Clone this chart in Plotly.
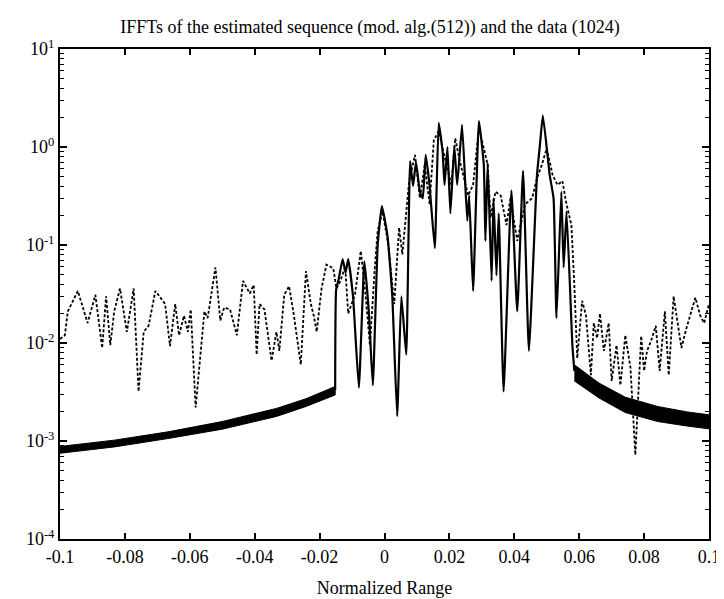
import plotly.graph_objects as go

# ---- estimated sequence (solid), central part ----
est_x = [-0.0152, -0.0149, -0.0141, -0.0129, -0.0120, -0.0112, -0.0097, -0.0079, -0.0062, -0.0048,
         -0.0036, -0.0021, -0.0008, 0.0009, 0.0024, 0.0039, 0.0052, 0.0067, 0.0079, 0.0088,
         0.0097, 0.0109, 0.0118, 0.0127, 0.0139, 0.0155, 0.0167, 0.0179, 0.0185, 0.0194,
         0.0203, 0.0215, 0.0224, 0.0239, 0.0255, 0.0261, 0.0273, 0.0291, 0.0306, 0.0311,
         0.0318, 0.0330, 0.0336, 0.0345, 0.0352, 0.0367, 0.0391, 0.0409, 0.0427, 0.0445,
         0.0470, 0.0479, 0.0488, 0.0509, 0.0521, 0.0530, 0.0545, 0.0552, 0.0561, 0.0579, 0.0585]
est_y = [0.0033, 0.035, 0.045, 0.072, 0.052, 0.072, 0.03, 0.0035, 0.068, 0.02,
         0.0037, 0.1, 0.25, 0.126, 0.03, 0.0018, 0.03, 0.0076, 0.72, 0.4,
         0.7, 0.35, 0.3, 0.83, 0.4, 0.093, 1.76, 0.9, 0.41, 1.0,
         0.21, 1.02, 0.41, 1.68, 0.176, 0.32, 0.034, 1.84, 0.66, 0.11,
         0.69, 0.043, 0.30, 0.049, 0.21, 0.0032, 0.36, 0.021, 0.57, 0.0083,
         0.52, 1.05, 2.1, 0.52, 0.3, 0.018, 0.35, 0.059, 0.22, 0.0095, 0.0052]

# ---- estimated sequence tails (dense ripple band: upper / lower envelopes) ----
tailL_x = [-0.1, -0.0833, -0.0667, -0.05, -0.0333, -0.0242, -0.0152]
tailL_hi = [8.8e-4, 1.02e-3, 1.24e-3, 1.58e-3, 2.15e-3, 2.7e-3, 3.6e-3]
tailL_lo = [7.5e-4, 8.7e-4, 1.06e-3, 1.32e-3, 1.78e-3, 2.25e-3, 2.95e-3]

tailR_x = [0.0585, 0.0661, 0.0742, 0.0842, 0.0933, 0.1]
tailR_hi = [6.0e-3, 3.9e-3, 2.8e-3, 2.25e-3, 1.98e-3, 1.85e-3]
tailR_lo = [4.1e-3, 2.75e-3, 1.95e-3, 1.58e-3, 1.42e-3, 1.33e-3]

# ---- data (dotted) ----
data_x = [-0.1, -0.0985, -0.0976, -0.0945, -0.0915, -0.0891, -0.0870, -0.0858, -0.0845, -0.0833,
          -0.0815, -0.0794, -0.0773, -0.0758, -0.0742, -0.0727, -0.0706, -0.0676, -0.0661, -0.0645,
          -0.0633, -0.0618, -0.0606, -0.0597, -0.0582, -0.0555, -0.0545, -0.0521, -0.0506, -0.0494,
          -0.0476, -0.0455, -0.0436, -0.0415, -0.0403, -0.0394, -0.0385, -0.0370, -0.0348, -0.0333,
          -0.0324, -0.0309, -0.0294, -0.0279, -0.0258, -0.0242, -0.0227, -0.0218, -0.0209, -0.0194,
          -0.0179, -0.0158, -0.0148, -0.0136, -0.0121, -0.0112, -0.0091, -0.0073, -0.0058, -0.0045,
          -0.0030, -0.0021, -0.0006, 0.0012, 0.0030, 0.0045, 0.0055, 0.0070, 0.0076, 0.0094,
          0.0109, 0.0124, 0.0139, 0.0152, 0.0167, 0.0185, 0.0206, 0.0218, 0.0230, 0.0258,
          0.0273, 0.0291, 0.0318, 0.0327, 0.0342, 0.0358, 0.0376, 0.0388, 0.0409, 0.0433,
          0.0455, 0.0470, 0.0485, 0.0500, 0.0518, 0.0533, 0.0548, 0.0561, 0.0576, 0.0585,
          0.0594, 0.0609, 0.0621, 0.0636, 0.0645, 0.0655, 0.0664, 0.0676, 0.0691, 0.0700,
          0.0715, 0.0727, 0.0742, 0.0758, 0.0773, 0.0791, 0.0800, 0.0809, 0.0821, 0.0836,
          0.0848, 0.0864, 0.0876, 0.0891, 0.0906, 0.0915, 0.0930, 0.0958, 0.0973, 0.0985, 0.1]
data_y = [0.011, 0.012, 0.021, 0.034, 0.016, 0.031, 0.0089, 0.030, 0.0095, 0.021,
          0.036, 0.013, 0.036, 0.0032, 0.013, 0.015, 0.034, 0.025, 0.0093, 0.025,
          0.012, 0.019, 0.013, 0.022, 0.0022, 0.021, 0.018, 0.059, 0.017, 0.023,
          0.022, 0.012, 0.043, 0.032, 0.039, 0.0076, 0.025, 0.022, 0.0066, 0.013,
          0.0083, 0.031, 0.038, 0.019, 0.006, 0.054, 0.025, 0.019, 0.013, 0.036,
          0.063, 0.058, 0.036, 0.043, 0.06, 0.02, 0.031, 0.087, 0.03, 0.0095,
          0.058, 0.14, 0.22, 0.1, 0.025, 0.15, 0.08, 0.28, 0.45, 0.83,
          0.3, 0.66, 0.26, 1.17, 1.45, 0.8, 0.41, 1.23, 0.77, 0.32,
          0.41, 1.56, 0.66, 0.19, 0.35, 0.32, 0.16, 0.3, 0.11, 0.26,
          0.3, 0.48, 0.66, 0.97, 0.52, 0.41, 0.45, 0.26, 0.16, 0.039,
          0.007, 0.027, 0.019, 0.0047, 0.016, 0.0112, 0.020, 0.0083, 0.016, 0.0041,
          0.0095, 0.0037, 0.012, 0.0056, 0.00072, 0.0118, 0.0052, 0.0083, 0.0104, 0.015,
          0.0052, 0.021, 0.0047, 0.03, 0.014, 0.0089, 0.014, 0.029, 0.019, 0.016, 0.025]

x_ticks = [-0.1, -0.08, -0.06, -0.04, -0.02, 0, 0.02, 0.04, 0.06, 0.08, 0.1]
x_ticktext = ["-0.1", "-0.08", "-0.06", "-0.04", "-0.02", "0", "0.02", "0.04", "0.06", "0.08", "0.1"]
y_ticks = [1e-4, 1e-3, 1e-2, 1e-1, 1e0, 1e1]
y_ticktext = ["10<sup>-4</sup>", "10<sup>-3</sup>", "10<sup>-2</sup>", "10<sup>-1</sup>",
              "10<sup>0</sup>", "10<sup>1</sup>"]
y_minor = [m * 10.0 ** e for e in range(-4, 1) for m in range(2, 10)]

FONT = "Liberation Serif, Times New Roman, Times, serif"

fig = go.Figure()

# left ripple band
fig.add_trace(go.Scatter(x=tailL_x + tailL_x[::-1], y=tailL_hi + tailL_lo[::-1],
                         mode="lines", fill="toself", fillcolor="black",
                         line=dict(color="black", width=1), showlegend=False, hoverinfo="skip"))
# right ripple band
fig.add_trace(go.Scatter(x=tailR_x + tailR_x[::-1], y=tailR_hi + tailR_lo[::-1],
                         mode="lines", fill="toself", fillcolor="black",
                         line=dict(color="black", width=1), showlegend=False, hoverinfo="skip"))
# data (dotted)
fig.add_trace(go.Scatter(x=data_x, y=data_y, mode="lines",
                         line=dict(color="black", width=1.8, dash="3px,2px"), showlegend=False))
# estimated sequence (solid)
fig.add_trace(go.Scatter(x=est_x, y=est_y, mode="lines",
                         line=dict(color="black", width=2.2, shape="spline", smoothing=0.4),
                         showlegend=False))
# invisible trace to anchor mirrored top/right axes
fig.add_trace(go.Scatter(x=[x_ticks[0], x_ticks[-1]], y=[y_ticks[0], y_ticks[-1]], xaxis="x2", yaxis="y2",
                         mode="markers", marker=dict(opacity=0), showlegend=False, hoverinfo="skip"))

fig.update_layout(
    width=724, height=599,
    paper_bgcolor="white", plot_bgcolor="white",
    margin=dict(l=52, r=12, t=41, b=68),
    font=dict(family=FONT, color="black", size=18),
    title=dict(text="IFFTs of the estimated sequence (mod. alg.(512)) and the data (1024)",
               x=0.5, xanchor="center", y=0.968, yanchor="middle", yref="container",
               font=dict(family=FONT, size=18, color="black")),
    xaxis=dict(range=[-0.1, 0.1], tickmode="array", tickvals=x_ticks, ticktext=x_ticktext,
               ticks="inside", ticklen=6, tickwidth=1.5, tickcolor="black",
               showline=True, linewidth=2, linecolor="black", mirror=True,
               showgrid=False, zeroline=False,
               tickfont=dict(family=FONT, size=18),
               title=dict(text="Normalized Range", font=dict(family=FONT, size=18), standoff=16)),
    yaxis=dict(type="log", range=[-4, 1], tickmode="array", tickvals=y_ticks, ticktext=y_ticktext,
               ticks="inside", ticklen=7, tickwidth=1.5, tickcolor="black",
               minor=dict(tickmode="array", tickvals=y_minor, ticks="inside", ticklen=4,
                          tickwidth=1, tickcolor="black", showgrid=False),
               showline=True, linewidth=2, linecolor="black", mirror=True,
               showgrid=False, zeroline=False,
               tickfont=dict(family=FONT, size=18)),
    xaxis2=dict(overlaying="x", side="top", range=[-0.1, 0.1], tickmode="array", tickvals=x_ticks,
                showticklabels=False, ticks="inside", ticklen=6, tickwidth=1.5, tickcolor="black",
                showgrid=False, zeroline=False, showline=False),
    yaxis2=dict(overlaying="y", side="right", type="log", range=[-4, 1], tickmode="array",
                tickvals=y_ticks, showticklabels=False, ticks="inside", ticklen=7, tickwidth=1.5,
                tickcolor="black",
                minor=dict(tickmode="array", tickvals=y_minor, ticks="inside", ticklen=4,
                           tickwidth=1, tickcolor="black", showgrid=False),
                showgrid=False, zeroline=False, showline=False),
)

fig.write_html("out.html")
